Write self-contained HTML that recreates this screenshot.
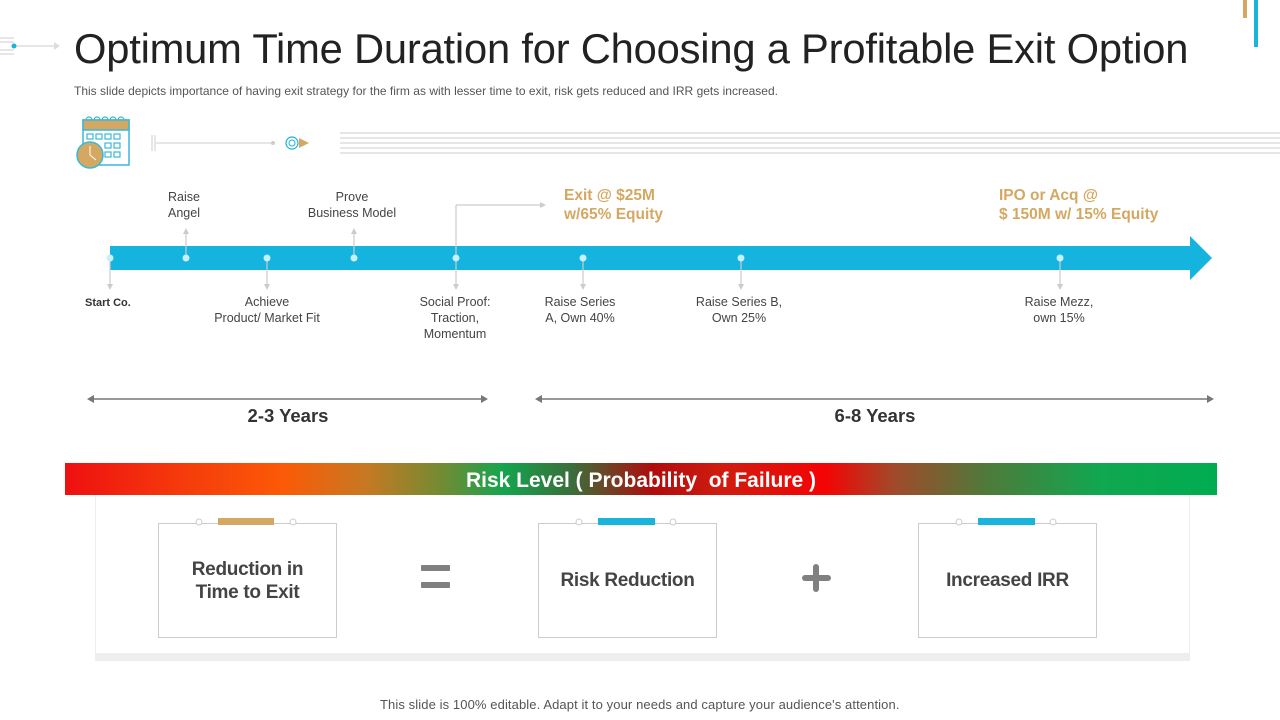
<!DOCTYPE html>
<html><head><meta charset="utf-8"><style>
body{margin:0;width:1280px;height:720px;background:#fff;font-family:"Liberation Sans",sans-serif;position:relative;overflow:hidden}
.a{position:absolute}
.lbl{position:absolute;font-size:12.5px;color:#444;text-align:center;line-height:16px;transform:translateX(-50%);white-space:nowrap}
.gold{position:absolute;font-size:15.5px;font-weight:bold;color:#d4a862;line-height:19px;white-space:nowrap}
.box{position:absolute;top:523px;width:177px;height:113px;border:1px solid #ccc;background:#fff;display:flex;align-items:center;justify-content:center;text-align:center;font-weight:bold;font-size:19px;color:#444;line-height:23px;letter-spacing:-0.3px}
</style></head><body>
<div class="a" style="left:74px;top:25px;font-size:41.7px;color:#222;white-space:nowrap;letter-spacing:-0.2px">Optimum Time Duration for Choosing a Profitable Exit Option</div>
<div class="a" style="left:74px;top:84px;font-size:12px;color:#555;white-space:nowrap;letter-spacing:0px;width:704px;text-align:justify;text-align-last:justify">This slide depicts importance of having exit strategy for the firm as with lesser time to exit, risk gets reduced and IRR gets increased.</div>
<div class="a" style="left:380px;top:697px;font-size:13px;color:#555;white-space:nowrap;letter-spacing:0.1px">This slide is 100% editable. Adapt it to your needs and capture your audience's attention.</div>
<div class="a" style="left:1243px;top:0;width:4px;height:18px;background:#d4a862"></div>
<div class="a" style="left:1254px;top:0;width:4px;height:47px;background:#1ab3dc"></div>
<svg class="a" style="left:0;top:0" width="1280" height="720">
 <g stroke="#ccc" stroke-width="1">
  <line x1="0" y1="38" x2="14" y2="38"/><line x1="0" y1="42" x2="14" y2="42"/><line x1="0" y1="50" x2="14" y2="50"/><line x1="0" y1="54" x2="14" y2="54"/>
  <line x1="14" y1="46" x2="54" y2="46"/>
  <line x1="152" y1="135" x2="152" y2="151"/><line x1="155" y1="135" x2="155" y2="151"/><line x1="156" y1="143" x2="272" y2="143"/>
  <line x1="340" y1="133" x2="1280" y2="133"/><line x1="340" y1="138" x2="1280" y2="138"/><line x1="340" y1="143" x2="1280" y2="143"/><line x1="340" y1="148" x2="1280" y2="148"/><line x1="340" y1="153" x2="1280" y2="153"/>
 </g>
 <circle cx="14" cy="46" r="2.5" fill="#1ab3dc"/>
 <polygon points="54,42 60,46 54,50" fill="#ddd"/>
 <circle cx="273" cy="143" r="2" fill="#ccc"/>
 <circle cx="292" cy="143" r="6" fill="none" stroke="#1ab3dc" stroke-width="1.2"/><circle cx="292" cy="143" r="3" fill="none" stroke="#1ab3dc" stroke-width="1"/>
 <polygon points="299,138 309,143 299,148" fill="#d4a862"/>
 <rect x="83" y="120" width="46" height="45" fill="#fff" stroke="#3bb8d6" stroke-width="1.5"/>
 <rect x="83" y="120" width="46" height="10" fill="#d4a862" stroke="#3bb8d6" stroke-width="1.5"/>
 <g fill="none" stroke="#3bb8d6" stroke-width="1.2">
  <path d="M86 120 a3 3 0 0 1 6 0 M94 120 a3 3 0 0 1 6 0 M102 120 a3 3 0 0 1 6 0 M110 120 a3 3 0 0 1 6 0 M118 120 a3 3 0 0 1 6 0"/>
  <rect x="87" y="134" width="6" height="5"/><rect x="96" y="134" width="6" height="5"/><rect x="105" y="134" width="6" height="5"/><rect x="114" y="134" width="6" height="5"/>
  <rect x="105" y="143" width="6" height="5"/><rect x="114" y="143" width="6" height="5"/><rect x="105" y="152" width="6" height="5"/><rect x="114" y="152" width="6" height="5"/>
 </g>
 <circle cx="90" cy="155" r="13" fill="#d4a862" stroke="#3bb8d6" stroke-width="1.5"/>
 <path d="M90 146 V155 L96 160" stroke="#fff" stroke-width="1" fill="none"/>
 <polygon points="110,246 1190,246 1190,236 1212,258 1190,280 1190,270 110,270" fill="#14b4de"/>
 <g stroke="#ccc" stroke-width="1.2">
  <line x1="110" y1="258" x2="110" y2="286"/><line x1="186" y1="258" x2="186" y2="232"/><line x1="267" y1="258" x2="267" y2="286"/>
  <line x1="354" y1="258" x2="354" y2="232"/><line x1="456" y1="286" x2="456" y2="205"/><line x1="456" y1="205" x2="540" y2="205"/>
  <line x1="583" y1="258" x2="583" y2="286"/><line x1="741" y1="258" x2="741" y2="286"/><line x1="1060" y1="258" x2="1060" y2="286"/>
 </g>
 <g fill="#ccc">
  <polygon points="107,284 113,284 110,290"/><polygon points="264,284 270,284 267,290"/><polygon points="453,284 459,284 456,290"/>
  <polygon points="580,284 586,284 583,290"/><polygon points="738,284 744,284 741,290"/><polygon points="1057,284 1063,284 1060,290"/>
  <polygon points="183,234 189,234 186,228"/><polygon points="351,234 357,234 354,228"/><polygon points="540,202 540,208 546,205"/>
 </g>
 <g fill="#c8f0f8"><circle cx="110" cy="258" r="3.5"/><circle cx="186" cy="258" r="3.5"/><circle cx="267" cy="258" r="3.5"/><circle cx="354" cy="258" r="3.5"/><circle cx="456" cy="258" r="3.5"/><circle cx="583" cy="258" r="3.5"/><circle cx="741" cy="258" r="3.5"/><circle cx="1060" cy="258" r="3.5"/></g>
 <g stroke="#777" stroke-width="1.5"><line x1="90" y1="399" x2="485" y2="399"/><line x1="538" y1="399" x2="1211" y2="399"/></g>
 <g fill="#777"><polygon points="87,399 94,395 94,403"/><polygon points="488,399 481,395 481,403"/><polygon points="535,399 542,395 542,403"/><polygon points="1214,399 1207,395 1207,403"/></g>
</svg>
<div class="lbl" style="left:184px;top:189px">Raise<br>Angel</div>
<div class="lbl" style="left:352px;top:189px">Prove<br>Business Model</div>
<div class="gold" style="left:564px;top:186px">Exit @ $25M<br>w/65% Equity</div>
<div class="gold" style="left:999px;top:186px">IPO or Acq @<br>$ 150M w/ 15% Equity</div>
<div class="a" style="left:85px;top:297px;font-size:11px;font-weight:bold;color:#333">Start Co.</div>
<div class="lbl" style="left:267px;top:294px">Achieve<br>Product/ Market Fit</div>
<div class="lbl" style="left:455px;top:294px">Social Proof:<br>Traction,<br>Momentum</div>
<div class="lbl" style="left:580px;top:294px">Raise Series<br>A, Own 40%</div>
<div class="lbl" style="left:739px;top:294px">Raise Series B,<br>Own 25%</div>
<div class="lbl" style="left:1059px;top:294px">Raise Mezz,<br>own 15%</div>
<div class="a" style="left:288px;top:405px;transform:translateX(-50%);font-size:18.5px;font-weight:bold;color:#333;white-space:nowrap">2-3 Years</div>
<div class="a" style="left:875px;top:405px;transform:translateX(-50%);font-size:18.5px;font-weight:bold;color:#333;white-space:nowrap">6-8 Years</div>
<div class="a" style="left:95px;top:495px;width:1093px;height:165px;border:1px solid #eee;border-top:none;background:#fff"></div>
<div class="a" style="left:95px;top:653px;width:1094px;height:7px;background:#eee"></div>
<div class="a" style="left:65px;top:463px;width:1152px;height:32px;background:linear-gradient(90deg,#ee1010 0%,#f53a0c 10%,#fb5a06 19%,#c87822 26%,#6e8c34 33%,#14a54e 38%,#3a6e3a 44%,#b00c0c 51%,#d01c10 57%,#f40404 66%,#a04a2a 72%,#4e7a3a 80%,#10a850 90%,#00ac50 100%);color:#fff;font-weight:bold;font-size:21px;text-align:center;line-height:35px">Risk Level ( Probability&nbsp; of Failure )</div>
<div class="box" style="left:158px">Reduction in<br>Time to Exit</div>
<div class="box" style="left:538px">Risk Reduction</div>
<div class="box" style="left:918px">Increased IRR</div>
<svg class="a" style="left:0;top:0" width="1280" height="720">
 <g stroke="#ccc" fill="#fff">
  <circle cx="199" cy="522" r="3"/><circle cx="293" cy="522" r="3"/>
  <circle cx="579" cy="522" r="3"/><circle cx="673" cy="522" r="3"/>
  <circle cx="959" cy="522" r="3"/><circle cx="1053" cy="522" r="3"/>
 </g>
 <rect x="218" y="518" width="56" height="7" fill="#d4a862"/>
 <rect x="598" y="518" width="57" height="7" fill="#1ab3dc"/>
 <rect x="978" y="518" width="57" height="7" fill="#1ab3dc"/>
 <rect x="421" y="565" width="29" height="6" rx="1" fill="#808080"/><rect x="421" y="582" width="29" height="6" rx="1" fill="#808080"/>
 <rect x="802" y="575" width="29" height="6" rx="3" fill="#808080"/><rect x="813" y="564" width="6" height="28" rx="3" fill="#808080"/>
</svg>
</body></html>
